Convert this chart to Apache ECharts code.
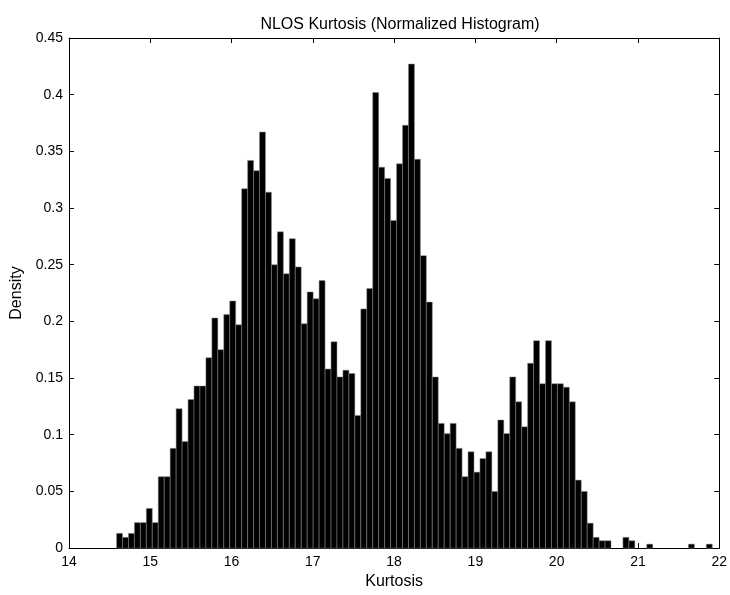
<!DOCTYPE html>
<html>
<head>
<meta charset="utf-8">
<title>NLOS Kurtosis</title>
<script src="https://cdn.jsdelivr.net/npm/echarts@6/dist/echarts.min.js"></script>
<style>
html, body { margin: 0; padding: 0; background: #fff; }
#hist-chart { width: 730px; height: 595px; }
</style>
</head>
<body>
<div id="hist-chart"></div>
<script>
// 100 bins
var binStart = 14.585;
var binWidth = 0.0733;
var density = [
  0.013, 0.0095, 0.013, 0.0225, 0.0225, 0.035, 0.0225, 0.063, 0.063, 0.088,
  0.123, 0.094, 0.131, 0.143, 0.143, 0.168, 0.203, 0.175, 0.206, 0.218,
  0.197, 0.317, 0.342, 0.333, 0.367, 0.314, 0.25, 0.279, 0.242, 0.273,
  0.248, 0.198, 0.226, 0.22, 0.236, 0.158, 0.182, 0.151, 0.157, 0.154,
  0.117, 0.211, 0.229, 0.402, 0.336, 0.326, 0.289, 0.339, 0.373, 0.427,
  0.343, 0.258, 0.217, 0.151, 0.11, 0.101, 0.11, 0.088, 0.063, 0.085,
  0.067, 0.079, 0.085, 0.05, 0.113, 0.101, 0.151, 0.129, 0.107, 0.163,
  0.183, 0.145, 0.183, 0.145, 0.145, 0.142, 0.129, 0.06, 0.05, 0.022,
  0.0095, 0.0065, 0.0065, 0, 0, 0.0095, 0.0065, 0, 0, 0.0035,
  0, 0, 0, 0, 0, 0, 0.0035, 0, 0, 0.0035
];
var xRange = [14, 22];
var yRange = [0, 0.45];

var fontName = "'Liberation Sans', Helvetica, Arial, sans-serif";

// each bin -> [left edge, right edge, height]
var bins = density.map(function (h, i) {
  return [binStart + i * binWidth, binStart + (i + 1) * binWidth, h];
});

function renderBar(params, api) {
  var h = api.value(2);
  if (!(h > 0)) return null;
  var p0 = api.coord([api.value(0), h]);
  var p1 = api.coord([api.value(1), 0]);
  return {
    type: 'rect',
    shape: { x: p0[0], y: p0[1], width: p1[0] - p0[0], height: p1[1] - p0[1] },
    style: { fill: '#000', stroke: '#8a8a8a', lineWidth: 0.5 }
  };
}

var boxLine = { show: true, onZero: false, lineStyle: { color: '#000', width: 1 } };
var inTick = { show: true, inside: true, length: 5, lineStyle: { color: '#000' } };
var tickText = { color: '#000', fontSize: 14, fontFamily: fontName };

var chart = echarts.init(document.getElementById('hist-chart'));
chart.setOption({
  animation: false,
  backgroundColor: '#fff',
  title: {
    text: 'NLOS Kurtosis (Normalized Histogram)',
    left: 395,
    textAlign: 'center',
    top: 12,
    textStyle: { color: '#000', fontSize: 16, fontWeight: 'normal', fontFamily: fontName }
  },
  grid: { left: 69, right: 9, top: 38, bottom: 40 },
  xAxis: [
    {
      type: 'value', position: 'bottom',
      min: xRange[0], max: xRange[1], interval: 1,
      name: 'Kurtosis', nameLocation: 'middle', nameGap: 25,
      nameTextStyle: { color: '#000', fontSize: 16, fontFamily: fontName },
      axisLine: boxLine, axisTick: inTick,
      axisLabel: Object.assign({ margin: 7 }, tickText),
      splitLine: { show: false }
    },
    {
      type: 'value', position: 'top',
      min: xRange[0], max: xRange[1], interval: 1,
      axisLine: boxLine, axisTick: inTick,
      axisLabel: { show: false }, splitLine: { show: false }
    }
  ],
  yAxis: [
    {
      type: 'value', position: 'left',
      min: yRange[0], max: yRange[1], interval: 0.05,
      name: 'Density', nameLocation: 'middle', nameGap: 43,
      nameTextStyle: { color: '#000', fontSize: 16, fontFamily: fontName },
      axisLine: boxLine, axisTick: inTick,
      axisLabel: Object.assign({ margin: 6 }, tickText),
      splitLine: { show: false }
    },
    {
      type: 'value', position: 'right',
      min: yRange[0], max: yRange[1], interval: 0.05,
      axisLine: boxLine, axisTick: inTick,
      axisLabel: { show: false }, splitLine: { show: false }
    }
  ],
  series: [
    {
      type: 'custom',
      renderItem: renderBar,
      xAxisIndex: 0,
      yAxisIndex: 0,
      encode: { x: [0, 1], y: 2 },
      data: bins
    }
  ]
});
</script>
</body>
</html>
